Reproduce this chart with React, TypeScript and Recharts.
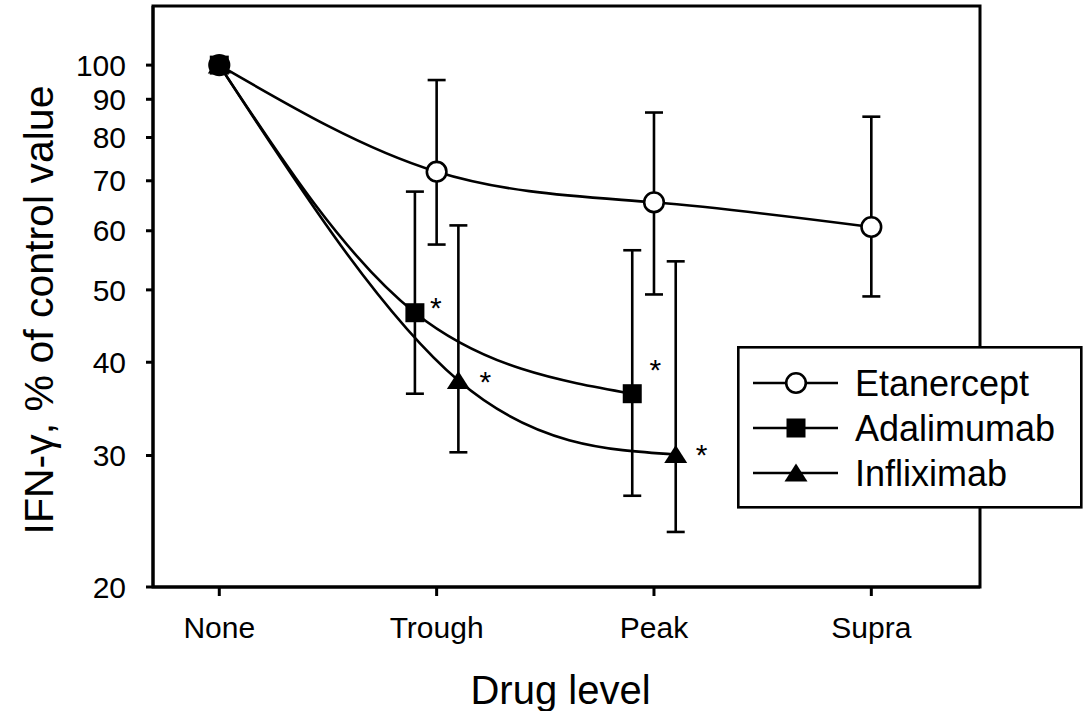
import React from "react";
import { LineChart, Line, XAxis, YAxis, ErrorBar, ReferenceArea, Legend } from "recharts";

const FONT = "'Liberation Sans', Arial, sans-serif";

// ---- data -------------------------------------------------------------------

const levels = ["None", "Trough", "Peak", "Supra"];
const yTicks = [20, 30, 40, 50, 60, 70, 80, 90, 100];

// IFN-gamma as % of control: mean plus lower/upper ends of the error bar
const etanerceptMean = [100, 72, 65.5, 60.7];
const etanerceptLow = [null, 57.5, 49.3, 49];
const etanerceptHigh = [null, 95.5, 86.4, 85.3];
const etanerceptSig = [false, false, false, false];

const adalimumabMean = [100, 46.6, 36.3];
const adalimumabLow = [null, 36.3, 26.5];
const adalimumabHigh = [null, 67.7, 56.5];
const adalimumabSig = [false, true, true];

const infliximabMean = [100, 37.8, 30.1];
const infliximabLow = [null, 30.3, 23.7];
const infliximabHigh = [null, 61, 54.6];
const infliximabSig = [false, true, true];

// ---- helpers ----------------------------------------------------------------

type Shape = "circle" | "square" | "triangle";

function buildRows(mean: number[], low: (number | null)[], high: (number | null)[], sig: boolean[], shift: number) {
  return mean.map((m, i) => ({
    x: i === 0 ? 0 : i + shift,
    y: m,
    err: low[i] == null ? null : [m - (low[i] as number), (high[i] as number) - m],
    sig: sig[i],
  }));
}

const SERIES: { name: string; shape: Shape; rows: any[]; star: number[][] }[] = [
  {
    name: "Etanercept",
    shape: "circle",
    rows: buildRows(etanerceptMean, etanerceptLow, etanerceptHigh, etanerceptSig, 0),
    star: [],
  },
  {
    name: "Adalimumab",
    shape: "square",
    rows: buildRows(adalimumabMean, adalimumabLow, adalimumabHigh, adalimumabSig, -0.1),
    star: [[0, 0], [21, -12], [23, -31]],
  },
  {
    name: "Infliximab",
    shape: "triangle",
    rows: buildRows(infliximabMean, infliximabLow, infliximabHigh, infliximabSig, 0.1),
    star: [[0, 0], [27, -6], [26, -6]],
  },
];

function Marker({ shape, cx, cy }: { shape: Shape; cx: number; cy: number }) {
  if (shape === "circle")
    return <circle cx={cx} cy={cy} r={9.8} fill="#fff" stroke="#000" strokeWidth={2.6} />;
  if (shape === "square")
    return <rect x={cx - 9.5} y={cy - 9.5} width={19} height={19} fill="#000" />;
  return (
    <polygon
      points={`${cx},${cy - 9.5} ${cx + 11.5},${cy + 8.5} ${cx - 11.5},${cy + 8.5}`}
      fill="#000"
    />
  );
}

function makeDot(s: (typeof SERIES)[number]) {
  return (p: any) => {
    const { cx, cy, index, payload } = p;
    const off = s.star[index] || [24, -8];
    return (
      <g key={`${s.name}-${index}`}>
        <Marker shape={s.shape} cx={cx} cy={cy} />
        {payload?.sig && (
          <text x={cx + off[0]} y={cy + off[1] + 17} textAnchor="middle" fontSize={30} fontFamily={FONT} fill="#000">
            *
          </text>
        )}
      </g>
    );
  };
}

function LegendBox() {
  return (
    <svg width={346} height={163}>
      <rect x={1.3} y={1.3} width={343} height={160} fill="#fff" stroke="#000" strokeWidth={2.6} />
      {SERIES.map((s, i) => {
        const y = 37 + i * 45;
        return (
          <g key={s.name}>
            <line x1={16} x2={101} y1={y} y2={y} stroke="#000" strokeWidth={2.6} />
            <Marker shape={s.shape} cx={59} cy={y} />
            <text x={118} y={y} dy="0.355em" fontSize={36} fontFamily={FONT} fill="#000">
              {s.name}
            </text>
          </g>
        );
      })}
    </svg>
  );
}

const tickStyle = { fill: "#000", fontSize: 30, fontFamily: FONT };
const black = { stroke: "#000", strokeWidth: 3 };

// ---- chart ------------------------------------------------------------------

export default function App() {
  return (
    <div style={{ position: "absolute", left: 0, top: 0, background: "#fff" }}>
      <LineChart width={1084} height={711} margin={{ top: 6, right: 104, bottom: 0, left: 0 }}>
        <XAxis
          type="number"
          dataKey="x"
          domain={[-0.305, 3.5]}
          allowDataOverflow
          ticks={[0, 1, 2, 3]}
          interval={0}
          tickFormatter={(v) => levels[v] ?? ""}
          height={124}
          tickSize={9}
          tickMargin={21}
          tick={tickStyle}
          axisLine={black}
          tickLine={black}
          label={{
            content: ({ viewBox }: any) => (
              <text
                x={viewBox.x + viewBox.width / 2 - 6}
                y={viewBox.y + viewBox.height - 7}
                textAnchor="middle"
                fontSize={40}
                fontFamily={FONT}
                fill="#000"
              >
                Drug level
              </text>
            ),
          }}
        />
        <YAxis
          type="number"
          scale="log"
          domain={[20, 120]}
          allowDataOverflow
          ticks={yTicks}
          interval={0}
          width={153}
          tickSize={7}
          tickMargin={20}
          tick={tickStyle}
          axisLine={black}
          tickLine={black}
          label={{
            content: () => (
              <text
                x={53}
                y={310}
                transform="rotate(-90 53 310)"
                textAnchor="middle"
                fontSize={41}
                fontFamily={FONT}
                fill="#000"
              >
                IFN-γ, % of control value
              </text>
            ),
          }}
        />
        <ReferenceArea x1={-0.305} x2={3.5} y1={20} y2={120} fill="none" stroke="#000" strokeWidth={3} ifOverflow="visible" />
        {SERIES.map((s) => (
          <Line
            key={s.name}
            data={s.rows}
            dataKey="y"
            name={s.name}
            type="natural"
            stroke="#000"
            strokeWidth={2.6}
            dot={makeDot(s)}
            activeDot={false}
            isAnimationActive={false}
          >
            <ErrorBar dataKey="err" direction="y" width={9} stroke="#000" strokeWidth={2.6} />
          </Line>
        ))}
        <Legend
          layout="horizontal"
          verticalAlign="middle"
          align="center"
          wrapperStyle={{ left: 737, top: 346, width: 346, height: 163 }}
          content={() => <LegendBox />}
        />
      </LineChart>
    </div>
  );
}
